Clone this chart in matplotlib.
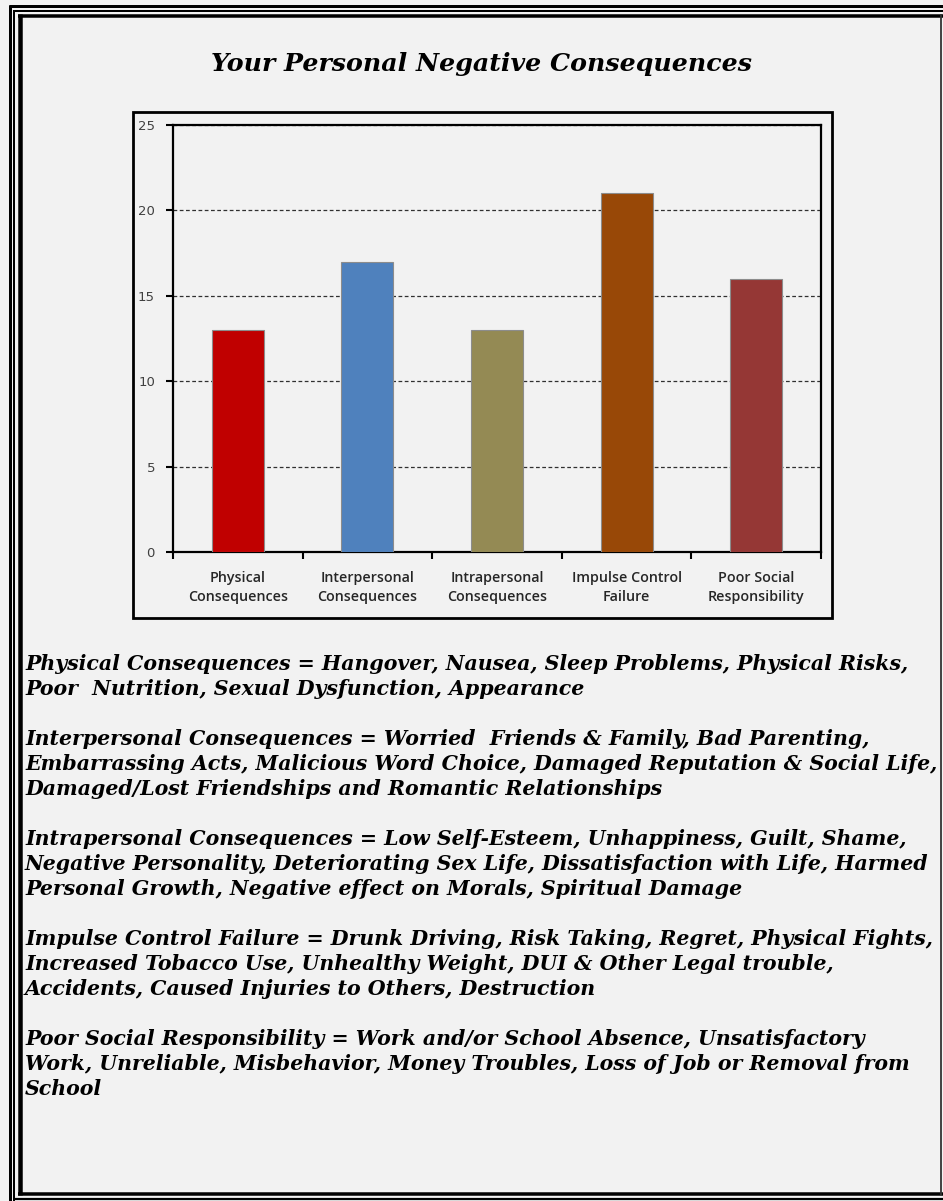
import matplotlib.pyplot as plt
from matplotlib.patches import Rectangle
from matplotlib.lines import Line2D

# scores per consequence area
categories = ["Physical\nConsequences", "Interpersonal\nConsequences",
              "Intrapersonal\nConsequences", "Impulse Control\nFailure",
              "Poor Social\nResponsibility"]
scores = [13, 17, 13, 21, 16]
bar_colors = ["#C00000", "#4F81BD", "#948A54", "#984807", "#953735"]
y_ticks = [0, 5, 10, 15, 20, 25]

title = "Your Personal Negative Consequences"
descriptions = [
    ["Physical Consequences = Hangover, Nausea, Sleep Problems, Physical Risks,",
     "Poor  Nutrition, Sexual Dysfunction, Appearance"],
    ["Interpersonal Consequences = Worried  Friends & Family, Bad Parenting,",
     "Embarrassing Acts, Malicious Word Choice, Damaged Reputation & Social Life,",
     "Damaged/Lost Friendships and Romantic Relationships"],
    ["Intrapersonal Consequences = Low Self-Esteem, Unhappiness, Guilt, Shame,",
     "Negative Personality, Deteriorating Sex Life, Dissatisfaction with Life, Harmed",
     "Personal Growth, Negative effect on Morals, Spiritual Damage"],
    ["Impulse Control Failure = Drunk Driving, Risk Taking, Regret, Physical Fights,",
     "Increased Tobacco Use, Unhealthy Weight, DUI & Other Legal trouble,",
     "Accidents, Caused Injuries to Others, Destruction"],
    ["Poor Social Responsibility = Work and/or School Absence, Unsatisfactory",
     "Work, Unreliable, Misbehavior, Money Troubles, Loss of Job or Removal from",
     "School"],
]

W, H = 943, 1201
bg = "#F2F2F2"
fig = plt.figure(figsize=(W / 100, H / 100), dpi=100, facecolor=bg)


def fx(px):
    return px / W


def fy(py):
    return 1 - py / H


def hline(y, x0, x1, w, c="black"):
    fig.add_artist(Line2D([fx(x0), fx(x1)], [fy(y), fy(y)], color=c, lw=w * 0.72,
                          solid_capstyle="butt"))


def vline(x, y0, y1, w, c="black"):
    fig.add_artist(Line2D([fx(x), fx(x)], [fy(y0), fy(y1)], color=c, lw=w * 0.72,
                          solid_capstyle="butt"))


# page border: three lines on top/left/bottom, thin line on the right
vline(10, 4.5, 1201, 3)
vline(14, 9.5, 1201, 2)
vline(20, 14, 1195, 4.5)
hline(6, 8.5, 943, 3)
hline(11, 13, 943, 2)
hline(15.5, 17.8, 943, 3.5)
hline(1193.5, 17.8, 943, 3.5)
hline(1198.5, 13, 943, 2.2)
vline(941, 14, 1195, 1.8, "#333333")

fig.text(fx(482), fy(64), title, ha="center", va="center",
         family="DejaVu Serif", style="italic", weight="bold", fontsize=18.2)

# chart frame
fig.add_artist(Rectangle((fx(133), fy(618)), fx(832 - 133), (618 - 112) / H,
                         fill=False, edgecolor="black", lw=2))

ax = fig.add_axes([fx(173), fy(552), fx(821 - 173), (552 - 125) / H])
ax.set_facecolor(bg)
x = range(len(categories))
ax.bar(x, scores, width=0.4, color=bar_colors, edgecolor="#8C8C8C", lw=0.8, zorder=3)
ax.set_xlim(-0.5, len(categories) - 0.5)
ax.set_ylim(0, 25)
ax.set_yticks(y_ticks)
ax.yaxis.grid(True, linestyle=(0, (3, 2)), color="#303030", lw=0.9, zorder=1)
ax.set_axisbelow(True)
for s in ax.spines.values():
    s.set_linewidth(1.6)
ax.tick_params(axis="y", direction="out", length=5, width=1.5, labelsize=9.5,
               labelcolor="#404040", pad=8)
ax.set_xticks([i - 0.5 for i in range(len(categories) + 1)], minor=False)
ax.set_xticklabels([])
ax.tick_params(axis="x", direction="out", length=5, width=1.5)
ax.set_xticks(list(x), minor=True)
ax.set_xticklabels(categories, minor=True, family="Open Sans", weight="semibold",
                   fontsize=10.3, color="#262626", linespacing=1.45)
ax.tick_params(axis="x", which="minor", length=0, pad=14)

# category descriptions, one baseline every 25 px
y0 = 670
for block in descriptions:
    for line in block:
        fig.text(fx(25), fy(y0), line, ha="left", va="baseline", family="DejaVu Serif",
                 style="italic", weight="bold", fontsize=14.8)
        y0 += 25
    y0 += 25

fig.savefig("out.png", dpi=100, facecolor=bg)
